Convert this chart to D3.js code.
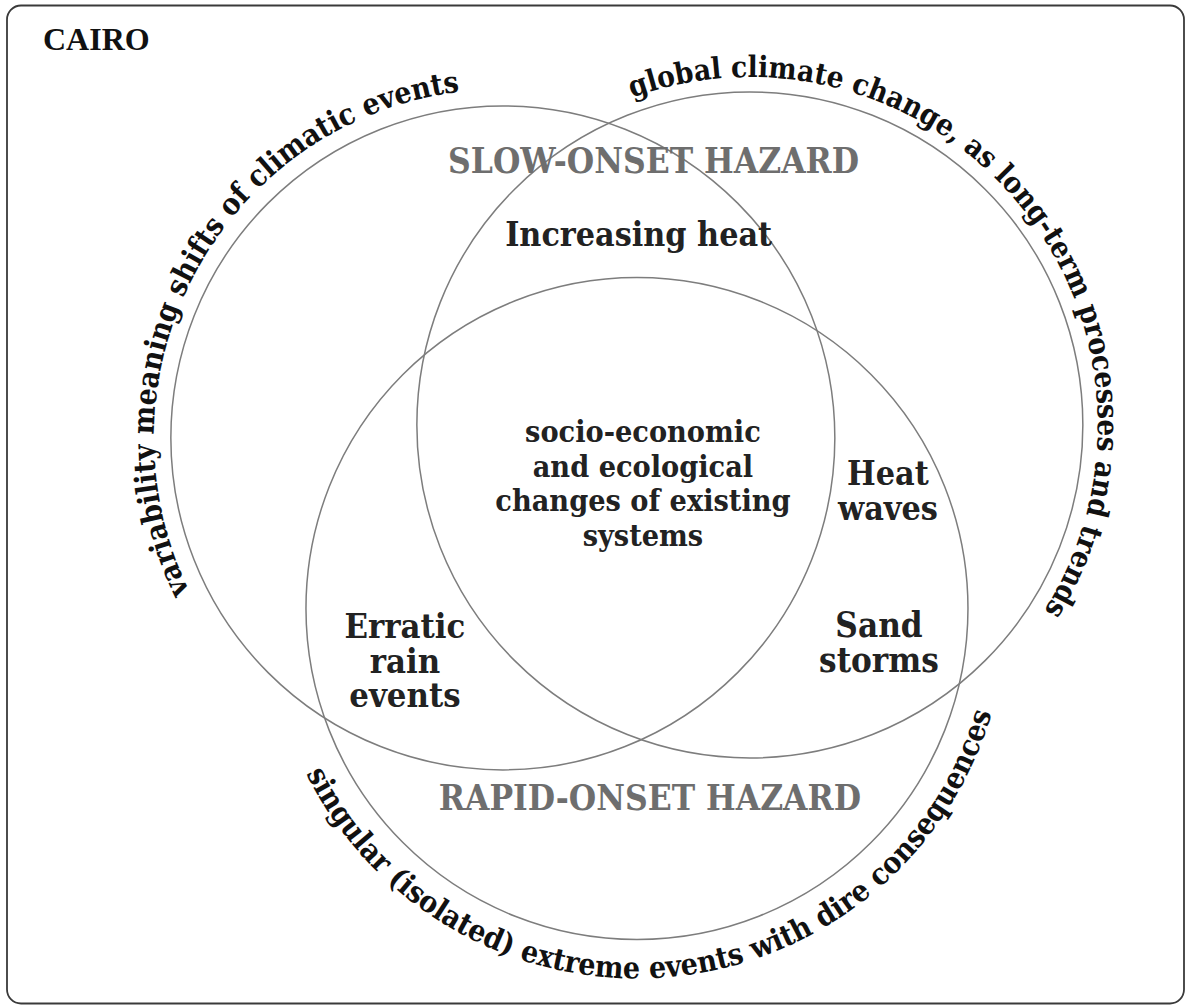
<!DOCTYPE html>
<html><head><meta charset="utf-8">
<script src="https://cdn.jsdelivr.net/npm/d3@7"></script>
<style>html,body{margin:0;padding:0;background:#fff;} svg{display:block;}</style>
</head><body>
<svg id="chart" width="1192" height="1007"></svg>
<script>
// ---------------- data ----------------
const title = "CAIRO";
const setIds = ["slow", "global", "rapid"];
const setArcLabels = [
  "variability meaning shifts of climatic events",
  "global climate change, as long-term processes and trends",
  "singular (isolated) extreme events with dire consequences"
];
const hazardLabels = ["SLOW-ONSET HAZARD", "RAPID-ONSET HAZARD"];
const regionLabels = [
  ["Increasing heat"],
  ["socio-economic", "and ecological", "changes of existing", "systems"],
  ["Heat", "waves"],
  ["Sand", "storms"],
  ["Erratic", "rain", "events"]
];

// ---------------- layout (unit space, radius 1 = one set) ----------------
const setCx = [-0.383, 0.361, 0.021];
const setCy = [-0.157, -0.196, 0.357];
const setR  = [1.0, 1.003, 0.997];
// arc text: start/end angle (deg, screen), baseline radius (units), sweep
const arcA0 = [153.9, 250.2, 153.5];
const arcA1 = [262.9, 392.3, 16.4];
const arcRb = [1.051, 1.048, 1.114];
const arcSweep = [1, 1, 0];
const hazardPos = [[0.071, -0.955], [0.060, 0.964]];
const regionPos = [[0.026, -0.735], [0.039, -0.145], [0.777, -0.015], [0.750, 0.443], [-0.678, 0.446]];
const regionFitLine = [0, 2, 1, 1, 0];
const regionFitWidth = [0.804, 0.89, 0.301, 0.361, 0.364];
const lineStep = 0.1045;

const W = 1192, H = 1007, U = 332, OX = 630, OY = 490;
const x = d3.scaleLinear().domain([-1, 1]).range([OX - U, OX + U]);
const y = d3.scaleLinear().domain([-1, 1]).range([OY - U, OY + U]);
const rs = d3.scaleLinear().domain([0, 1]).range([0, U]);

const svg = d3.select("#chart");
const SERIF = "'DejaVu Serif Condensed', 'DejaVu Serif', Georgia, serif";
const STRETCH = "condensed";

// frame
svg.append("rect").attr("x", 7).attr("y", 5.5).attr("width", 1177).attr("height", 998)
  .attr("rx", 14).attr("fill", "none").attr("stroke", "#3a3a3a").attr("stroke-width", 1.8);

// title
svg.append("text").attr("x", 43).attr("y", 50)
  .attr("font-family", "'Liberation Serif', 'Times New Roman', serif")
  .attr("font-weight", "bold").attr("font-size", 32).attr("fill", "#111").text(title);

// measure helper
function measure(str) {
  const t = svg.append("text").attr("font-family", SERIF).attr("font-weight", "bold")
    .attr("font-stretch", STRETCH).attr("font-size", 100).text(str);
  const w = t.node().getComputedTextLength();
  t.remove();
  return w / 100;
}

// circles
svg.append("g").selectAll("circle").data(setIds).join("circle")
  .attr("cx", (d, i) => x(setCx[i])).attr("cy", (d, i) => y(setCy[i]))
  .attr("r", (d, i) => rs(setR[i]))
  .attr("fill", "none").attr("stroke", "#7d7d7d").attr("stroke-width", 1.5);

// arc texts
const defs = svg.append("defs");
const rad = a => a * Math.PI / 180;
setIds.forEach((id, i) => {
  const cx = x(setCx[i]), cy = y(setCy[i]), R = rs(arcRb[i]);
  const a0 = arcA0[i], a1 = arcA1[i];
  const span = Math.abs(a1 - a0);
  const p0 = [cx + R * Math.cos(rad(a0)), cy + R * Math.sin(rad(a0))];
  const p1 = [cx + R * Math.cos(rad(a1)), cy + R * Math.sin(rad(a1))];
  const d = `M${p0[0]},${p0[1]} A${R},${R} 0 ${span > 180 ? 1 : 0} ${arcSweep[i]} ${p1[0]},${p1[1]}`;
  defs.append("path").attr("id", "arc-" + id).attr("d", d);
  const len = R * rad(span);
  const fs = len / measure(setArcLabels[i]);
  svg.append("text").attr("font-family", SERIF).attr("font-weight", "bold")
    .attr("font-stretch", STRETCH)
    .attr("font-size", fs).attr("fill", "#111")
    .append("textPath").attr("href", "#arc-" + id).attr("startOffset", 0)
    .text(setArcLabels[i]);
});

// hazard labels
const hzSize = 411 / measure(hazardLabels[0]);
svg.append("g").selectAll("text").data(hazardLabels).join("text")
  .attr("x", (d, i) => x(hazardPos[i][0])).attr("y", (d, i) => y(hazardPos[i][1]))
  .attr("text-anchor", "middle").attr("font-family", SERIF).attr("font-weight", "bold")
  .attr("font-stretch", STRETCH)
  .attr("font-size", hzSize).attr("fill", "#6e6e6e").text(d => d);

// region labels (each block sized so its reference line matches the picture's width)
const rg = svg.append("g").selectAll("text").data(regionLabels).join("text")
  .attr("text-anchor", "middle").attr("font-family", SERIF).attr("font-weight", "bold")
  .attr("font-stretch", STRETCH)
  .attr("font-size", (lines, i) => rs(regionFitWidth[i]) / measure(lines[regionFitLine[i]]))
  .attr("fill", "#222");
rg.each(function(lines, i) {
  d3.select(this).selectAll("tspan").data(lines).join("tspan")
    .attr("x", x(regionPos[i][0]))
    .attr("y", (d, j) => y(regionPos[i][1] + j * lineStep))
    .text(d => d);
});
</script>
</body></html>
